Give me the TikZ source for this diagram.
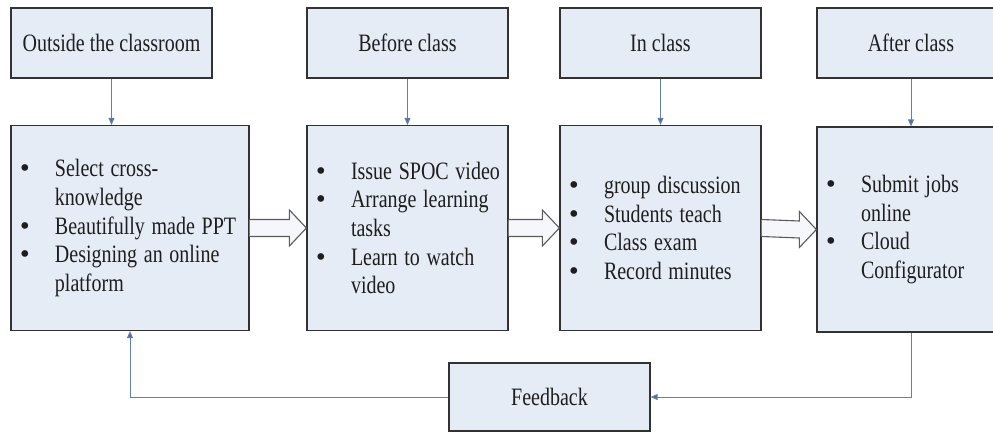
\documentclass[tikz,border=0pt]{standalone}
\usepackage{fontspec}
\usepackage{graphicx}
\setmainfont{Liberation Serif}
\newfontfamily\bulfont{DejaVu Sans}
\usetikzlibrary{arrows.meta,calc}
\definecolor{boxfill}{RGB}{230,236,246}
\definecolor{boxline}{RGB}{50,50,50}
\definecolor{connc}{RGB}{100,128,165}
\definecolor{txt}{RGB}{30,30,30}
\newcommand{\tall}[1]{\scalebox{1}[1.25]{#1}}
\newcommand{\bitem}[1]{\makebox[35.5pt][l]{\hspace{-1.5pt}{\bulfont\fontsize{23}{28.7}\selectfont •}}\tall{#1}}
\newcommand{\bcont}[1]{\hspace*{35.5pt}\tall{#1}}
\newcommand{\blockarr}[2]{%
  \draw[blockarrow] ($(#1.east)+(0,-8.5)$) -- ($(#2.west)+(-17,-8.5)$) -- ($(#2.west)+(-17,-18)$) -- (#2.west) -- ($(#2.west)+(-17,18)$) -- ($(#2.west)+(-17,8.5)$) -- ($(#1.east)+(0,8.5)$);}
\begin{document}
\begin{tikzpicture}[x=1pt,y=-1pt,
  box/.style={draw=boxline, line width=1.2pt, fill=boxfill, text=txt, font=\fontsize{20}{28.7}\selectfont},
  headbox/.style={box, minimum width=201pt, minimum height=70pt, inner sep=0pt},
  mainbox/.style={box, minimum height=205pt, align=left, inner xsep=8.5pt, inner ysep=0pt},
  conn/.style={draw=connc, line width=1pt, -{Triangle[length=7pt,width=6pt,fill=connc!80!blue]}},
  blockarrow/.style={draw=boxline!80, line width=1.1pt, fill=boxfill!40!white, line join=miter}]
\clip (0,0) rectangle (993,434);
\fill[white] (0,0) rectangle (993,434);
% top boxes
\node[headbox] (h1) at (111.5,43) {\tall{Outside the classroom}};
\node[headbox] (h2) at (407.5,43) {\tall{Before class}};
\node[headbox] (h3) at (660.5,43) {\tall{In class}};
\node[headbox, minimum width=188pt] (h4) at (911,43) {\tall{After class}};
% main boxes
\node[mainbox, text width=221pt] (b1) at (130,228) {%
\bitem{Select cross-}\\ \bcont{knowledge}\\ \bitem{Beautifully made PPT}\\ \bitem{Designing an online}\\ \bcont{platform}};
\node[mainbox, text width=184pt] (b2) at (407.5,228) {%
\bitem{Issue SPOC video}\\ \bitem{Arrange learning}\\ \bcont{tasks}\\ \bitem{Learn to watch}\\ \bcont{video}};
\node[mainbox, text width=184pt] (b3) at (660.5,228) {%
\bitem{group discussion}\\ \bitem{Students teach}\\ \bitem{Class exam}\\ \bitem{Record minutes}};
\node[mainbox, text width=171pt] (b4) at (911,229.5) {%
\bitem{Submit jobs}\\ \bcont{online}\\ \bitem{Cloud}\\ \bcont{Configurator}};
% feedback
\node[headbox, minimum height=68pt] (fb) at (549.5,397) {\tall{Feedback}};
% connectors
\draw[conn] (h1.south) -- (h1.south |- b1.north);
\draw[conn] (h2.south) -- (b2.north);
\draw[conn] (h3.south) -- (b3.north);
\draw[conn] (h4.south) -- (b4.north);
\draw[conn] (b4.south) |- (fb.east);
\draw[conn] (fb.west) -| (b1.south);
% block arrows
\blockarr{b1}{b2}
\blockarr{b2}{b3}
\blockarr{b3}{b4}
\end{tikzpicture}
\end{document}
